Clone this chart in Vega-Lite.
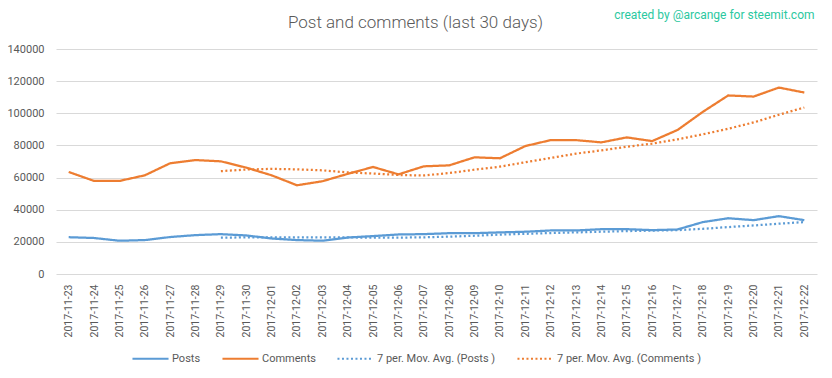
{
  "$schema": "https://vega.github.io/schema/vega-lite/v6.json",
  "width": 761,
  "height": 225,
  "autosize": {"type": "none"},
  "padding": {"left": 56, "top": 49, "right": 15, "bottom": 104},
  "background": "white",
  "title": {
    "text": "Post and comments (last 30 days)",
    "anchor": "middle",
    "dx": -21,
    "dy": 38,
    "fontSize": 17,
    "fontWeight": 300,
    "font": "Roboto",
    "color": "#595959",
    "offset": 14
  },
  "datasets": {
    "rows": [
      {"date": "2017-11-23", "series": "Posts", "value": 22900},
      {"date": "2017-11-24", "series": "Posts", "value": 22400},
      {"date": "2017-11-25", "series": "Posts", "value": 20700},
      {"date": "2017-11-26", "series": "Posts", "value": 21100},
      {"date": "2017-11-27", "series": "Posts", "value": 23000},
      {"date": "2017-11-28", "series": "Posts", "value": 24200},
      {"date": "2017-11-29", "series": "Posts", "value": 24800},
      {"date": "2017-11-30", "series": "Posts", "value": 24000},
      {"date": "2017-12-01", "series": "Posts", "value": 22100},
      {"date": "2017-12-02", "series": "Posts", "value": 21100},
      {"date": "2017-12-03", "series": "Posts", "value": 20700},
      {"date": "2017-12-04", "series": "Posts", "value": 22700},
      {"date": "2017-12-05", "series": "Posts", "value": 23600},
      {"date": "2017-12-06", "series": "Posts", "value": 24600},
      {"date": "2017-12-07", "series": "Posts", "value": 24800},
      {"date": "2017-12-08", "series": "Posts", "value": 25400},
      {"date": "2017-12-09", "series": "Posts", "value": 25400},
      {"date": "2017-12-10", "series": "Posts", "value": 25900},
      {"date": "2017-12-11", "series": "Posts", "value": 26300},
      {"date": "2017-12-12", "series": "Posts", "value": 27100},
      {"date": "2017-12-13", "series": "Posts", "value": 27100},
      {"date": "2017-12-14", "series": "Posts", "value": 27900},
      {"date": "2017-12-15", "series": "Posts", "value": 27900},
      {"date": "2017-12-16", "series": "Posts", "value": 27300},
      {"date": "2017-12-17", "series": "Posts", "value": 27700},
      {"date": "2017-12-18", "series": "Posts", "value": 32300},
      {"date": "2017-12-19", "series": "Posts", "value": 34700},
      {"date": "2017-12-20", "series": "Posts", "value": 33500},
      {"date": "2017-12-21", "series": "Posts", "value": 36000},
      {"date": "2017-12-22", "series": "Posts", "value": 33500},

      {"date": "2017-11-23", "series": "Comments", "value": 63500},
      {"date": "2017-11-24", "series": "Comments", "value": 57900},
      {"date": "2017-11-25", "series": "Comments", "value": 57900},
      {"date": "2017-11-26", "series": "Comments", "value": 61400},
      {"date": "2017-11-27", "series": "Comments", "value": 68900},
      {"date": "2017-11-28", "series": "Comments", "value": 70900},
      {"date": "2017-11-29", "series": "Comments", "value": 70100},
      {"date": "2017-11-30", "series": "Comments", "value": 66200},
      {"date": "2017-12-01", "series": "Comments", "value": 61400},
      {"date": "2017-12-02", "series": "Comments", "value": 55200},
      {"date": "2017-12-03", "series": "Comments", "value": 57700},
      {"date": "2017-12-04", "series": "Comments", "value": 62300},
      {"date": "2017-12-05", "series": "Comments", "value": 66600},
      {"date": "2017-12-06", "series": "Comments", "value": 62000},
      {"date": "2017-12-07", "series": "Comments", "value": 67000},
      {"date": "2017-12-08", "series": "Comments", "value": 67600},
      {"date": "2017-12-09", "series": "Comments", "value": 72600},
      {"date": "2017-12-10", "series": "Comments", "value": 72000},
      {"date": "2017-12-11", "series": "Comments", "value": 79600},
      {"date": "2017-12-12", "series": "Comments", "value": 83300},
      {"date": "2017-12-13", "series": "Comments", "value": 83300},
      {"date": "2017-12-14", "series": "Comments", "value": 81900},
      {"date": "2017-12-15", "series": "Comments", "value": 85000},
      {"date": "2017-12-16", "series": "Comments", "value": 82700},
      {"date": "2017-12-17", "series": "Comments", "value": 89600},
      {"date": "2017-12-18", "series": "Comments", "value": 100900},
      {"date": "2017-12-19", "series": "Comments", "value": 111100},
      {"date": "2017-12-20", "series": "Comments", "value": 110400},
      {"date": "2017-12-21", "series": "Comments", "value": 116000},
      {"date": "2017-12-22", "series": "Comments", "value": 112900},

      {"date": "2017-11-29", "series": "7 per. Mov. Avg. (Posts )", "value": 22600},
      {"date": "2017-11-30", "series": "7 per. Mov. Avg. (Posts )", "value": 22800},
      {"date": "2017-12-01", "series": "7 per. Mov. Avg. (Posts )", "value": 22800},
      {"date": "2017-12-02", "series": "7 per. Mov. Avg. (Posts )", "value": 22850},
      {"date": "2017-12-03", "series": "7 per. Mov. Avg. (Posts )", "value": 22800},
      {"date": "2017-12-04", "series": "7 per. Mov. Avg. (Posts )", "value": 22750},
      {"date": "2017-12-05", "series": "7 per. Mov. Avg. (Posts )", "value": 22650},
      {"date": "2017-12-06", "series": "7 per. Mov. Avg. (Posts )", "value": 22650},
      {"date": "2017-12-07", "series": "7 per. Mov. Avg. (Posts )", "value": 22800},
      {"date": "2017-12-08", "series": "7 per. Mov. Avg. (Posts )", "value": 23250},
      {"date": "2017-12-09", "series": "7 per. Mov. Avg. (Posts )", "value": 23800},
      {"date": "2017-12-10", "series": "7 per. Mov. Avg. (Posts )", "value": 24500},
      {"date": "2017-12-11", "series": "7 per. Mov. Avg. (Posts )", "value": 25000},
      {"date": "2017-12-12", "series": "7 per. Mov. Avg. (Posts )", "value": 25500},
      {"date": "2017-12-13", "series": "7 per. Mov. Avg. (Posts )", "value": 25900},
      {"date": "2017-12-14", "series": "7 per. Mov. Avg. (Posts )", "value": 26300},
      {"date": "2017-12-15", "series": "7 per. Mov. Avg. (Posts )", "value": 26700},
      {"date": "2017-12-16", "series": "7 per. Mov. Avg. (Posts )", "value": 27000},
      {"date": "2017-12-17", "series": "7 per. Mov. Avg. (Posts )", "value": 27300},
      {"date": "2017-12-18", "series": "7 per. Mov. Avg. (Posts )", "value": 28100},
      {"date": "2017-12-19", "series": "7 per. Mov. Avg. (Posts )", "value": 29200},
      {"date": "2017-12-20", "series": "7 per. Mov. Avg. (Posts )", "value": 30200},
      {"date": "2017-12-21", "series": "7 per. Mov. Avg. (Posts )", "value": 31300},
      {"date": "2017-12-22", "series": "7 per. Mov. Avg. (Posts )", "value": 32300},

      {"date": "2017-11-29", "series": "7 per. Mov. Avg. (Comments )", "value": 64000},
      {"date": "2017-11-30", "series": "7 per. Mov. Avg. (Comments )", "value": 65000},
      {"date": "2017-12-01", "series": "7 per. Mov. Avg. (Comments )", "value": 65400},
      {"date": "2017-12-02", "series": "7 per. Mov. Avg. (Comments )", "value": 65100},
      {"date": "2017-12-03", "series": "7 per. Mov. Avg. (Comments )", "value": 64500},
      {"date": "2017-12-04", "series": "7 per. Mov. Avg. (Comments )", "value": 63200},
      {"date": "2017-12-05", "series": "7 per. Mov. Avg. (Comments )", "value": 62500},
      {"date": "2017-12-06", "series": "7 per. Mov. Avg. (Comments )", "value": 61600},
      {"date": "2017-12-07", "series": "7 per. Mov. Avg. (Comments )", "value": 61300},
      {"date": "2017-12-08", "series": "7 per. Mov. Avg. (Comments )", "value": 62800},
      {"date": "2017-12-09", "series": "7 per. Mov. Avg. (Comments )", "value": 64900},
      {"date": "2017-12-10", "series": "7 per. Mov. Avg. (Comments )", "value": 66800},
      {"date": "2017-12-11", "series": "7 per. Mov. Avg. (Comments )", "value": 69500},
      {"date": "2017-12-12", "series": "7 per. Mov. Avg. (Comments )", "value": 72200},
      {"date": "2017-12-13", "series": "7 per. Mov. Avg. (Comments )", "value": 74900},
      {"date": "2017-12-14", "series": "7 per. Mov. Avg. (Comments )", "value": 76900},
      {"date": "2017-12-15", "series": "7 per. Mov. Avg. (Comments )", "value": 79200},
      {"date": "2017-12-16", "series": "7 per. Mov. Avg. (Comments )", "value": 81100},
      {"date": "2017-12-17", "series": "7 per. Mov. Avg. (Comments )", "value": 83800},
      {"date": "2017-12-18", "series": "7 per. Mov. Avg. (Comments )", "value": 86900},
      {"date": "2017-12-19", "series": "7 per. Mov. Avg. (Comments )", "value": 90400},
      {"date": "2017-12-20", "series": "7 per. Mov. Avg. (Comments )", "value": 94300},
      {"date": "2017-12-21", "series": "7 per. Mov. Avg. (Comments )", "value": 99100},
      {"date": "2017-12-22", "series": "7 per. Mov. Avg. (Comments )", "value": 103600}
    ]
  },
  "data": {"name": "rows"},
  "mark": {"type": "line", "strokeWidth": 2.25, "strokeCap": "butt"},
  "encoding": {
    "x": {
      "field": "date",
      "type": "ordinal",
      "scale": {"type": "point", "padding": 0.5},
      "axis": {
        "title": null,
        "labelAngle": 270,
        "labelAlign": "right",
        "labelBaseline": "middle",
        "labelPadding": 10,
        "labelFontSize": 10.5,
        "labelColor": "#595959",
        "labelFont": "Roboto",
        "ticks": false,
        "domain": false,
        "grid": false
      }
    },
    "y": {
      "field": "value",
      "type": "quantitative",
      "scale": {"domain": [0, 140000], "nice": false},
      "axis": {
        "values": [0, 20000, 40000, 60000, 80000, 100000, 120000, 140000],
        "format": "d",
        "labelFontSize": 11,
        "labelColor": "#595959",
        "labelFont": "Roboto",
        "labelPadding": 12,
        "ticks": false,
        "domain": false,
        "gridColor": "#D9D9D9",
        "gridWidth": 1,
        "title": "created by @arcange for steemit.com",
        "titleAngle": 0,
        "titleAlign": "right",
        "titleBaseline": "middle",
        "titleX": 758,
        "titleY": -35,
        "titleColor": "#2BC8A0",
        "titleFontSize": 12,
        "titleFontWeight": "normal",
        "titleFont": "Roboto"
      }
    },
    "color": {
      "field": "series",
      "type": "nominal",
      "scale": {
        "domain": ["Posts", "Comments", "7 per. Mov. Avg. (Posts )", "7 per. Mov. Avg. (Comments )"],
        "range": ["#5B9BD5", "#ED7D31", "#5B9BD5", "#ED7D31"]
      },
      "legend": {
        "title": null,
        "orient": "none",
        "direction": "horizontal",
        "legendX": 75,
        "legendY": 290,
        "symbolType": "stroke",
        "symbolSize": 1300,
        "symbolStrokeWidth": 2,
        "labelFontSize": 11,
        "labelColor": "#595959",
        "labelFont": "Roboto",
        "labelOffset": 2,
        "columnPadding": 17
      }
    },
    "strokeDash": {
      "field": "series",
      "type": "nominal",
      "scale": {
        "domain": ["Posts", "Comments", "7 per. Mov. Avg. (Posts )", "7 per. Mov. Avg. (Comments )"],
        "range": [[1, 0], [1, 0], [2, 2.5], [2, 2.5]]
      },
      "legend": null
    },
    "order": {"field": "date"}
  },
  "config": {
    "view": {"stroke": null}
  }
}
